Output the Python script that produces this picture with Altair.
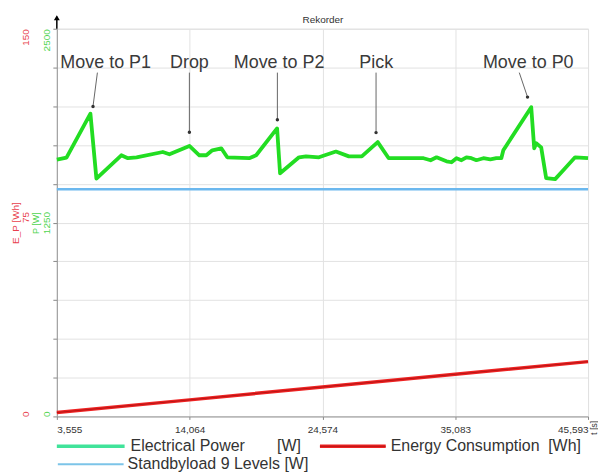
import altair as alt
import pandas as pd

# ---------------- data ----------------
t_power = [3555, 4320, 6213, 6686, 8658, 9178, 9865, 11939, 12467, 14045,
           14833, 15386, 15859, 16569, 17042, 18777, 19329, 20985, 21222, 22721,
           23273, 24298, 25639, 26664, 27689, 28951, 29819, 30607, 31948, 32579,
           33131, 33604, 33999, 34393, 34787, 35182, 35576, 35970, 36365, 36759,
           37311, 37863, 38336, 38731, 38889, 41097, 41334, 41492, 41886, 42281,
           42990, 43779, 44568, 45593]
p_power = [1656, 1669, 1952, 1534, 1684, 1665, 1671, 1705, 1690, 1744,
           1684, 1684, 1716, 1729, 1671, 1665, 1684, 1857, 1568, 1671,
           1677, 1671, 1708, 1677, 1677, 1769, 1665, 1665, 1665, 1665,
           1652, 1671, 1658, 1645, 1639, 1665, 1652, 1671, 1665, 1652,
           1665, 1658, 1665, 1665, 1716, 1994, 1729, 1761, 1735, 1536,
           1530, 1600, 1671, 1665]

t_energy = [3555, 14064, 24574, 35083, 45593]
e_energy = [1.5, 6.4, 11.4, 16.3, 21.2]

t_standby = [3555, 45593]
p_standby = [1465, 1465]

ann_labels = ["Move to P1", "Drop", "Move to P2", "Pick", "Move to P0"]
ann_t_text = [7420, 14045, 21143, 28833, 40861]
ann_p_text = [2249, 2249, 2249, 2249, 2249]
ann_t_top = [6765, 14045, 21009, 28817, 40151]
ann_p_top = [2217, 2217, 2217, 2217, 2217]
ann_t_tip = [6418, 14045, 21009, 28817, 40805]
ann_p_tip = [1999, 1832, 1913, 1830, 2059]

x_ticks = [3555, 14064, 24574, 35083, 45593]
p_ticks = [0, 250, 500, 750, 1000, 1250, 1500, 1750, 2000, 2250, 2500]
e_ticks = [0, 75, 150]

chart_title = "Rekorder"
legend_labels = ["Electrical Power", "[W]", "Energy Consumption", "[Wh]",
                 "Standbyload 9 Levels [W]"]

# ---------------- styling ----------------
FONT = "Liberation Sans, Arial, sans-serif"
GREEN = "#22dd22"
GREEN_LBL = "#4fd44f"
RED = "#ee2222"
RED_DARK = "#a81212"
RED_LBL = "#e8404c"
BLUE = "#6cb8ee"
TXT = "#333333"

power_df = pd.DataFrame({"t": t_power, "P": p_power})
standby_df = pd.DataFrame({"t": t_standby, "P": p_standby})
energy_df = pd.DataFrame({"t": t_energy, "E": e_energy})
ann_df = pd.DataFrame({
    "label": ann_labels,
    "t_text": ann_t_text, "p_text": ann_p_text,
    "t_top": ann_t_top, "p_top": ann_p_top,
    "t_tip": ann_t_tip, "p_tip": ann_p_tip,
})
one = pd.DataFrame({"k": [0]})

x_scale = alt.Scale(domain=[3555, 45593], nice=False, zero=False)
p_scale = alt.Scale(domain=[0, 2500], nice=False)
e_scale = alt.Scale(domain=[0, 150], nice=False)

x_axis = alt.Axis(
    values=x_ticks, format=",d", labelFlush=True, labelFontSize=10,
    labelColor=TXT, labelFont=FONT, tickSize=3, tickColor="#888888",
    labelPadding=5, domainColor="#999999", gridColor="#e2e2e2",
    title="t [s]", titleAngle=270, titleX=543, titleY=11, titleAlign="center",
    titleBaseline="bottom", titleFontSize=9, titleFontWeight="normal",
    titleColor=TXT, titleFont=FONT, labelOverlap=False,
)

p_axis = alt.Axis(
    values=p_ticks, format="d",
    labelExpr="datum.value % 1250 == 0 ? datum.label : ''",
    labelAngle=270,
    labelAlign={"condition": [{"test": "datum.value == 2500", "value": "right"},
                              {"test": "datum.value == 1250", "value": "center"}],
                "value": "left"},
    labelBaseline="bottom", labelColor=GREEN_LBL, labelFontSize=10,
    labelFont=FONT, labelPadding=1, labelOverlap=False,
    tickSize=4, tickColor="#888888", domainColor="#999999",
    grid=True, gridColor="#e2e2e2",
    title="P [W]", titleColor=GREEN_LBL, titleFontSize=9,
    titleFontWeight="normal", titlePadding=1, titleAngle=270, titleFont=FONT,
    orient="left",
)

e_axis = alt.Axis(
    values=e_ticks, format="d", labelAngle=270,
    labelAlign={"condition": {"test": "datum.value == 150", "value": "right"},
                "value": "left"},
    labelBaseline="bottom", labelColor=RED_LBL, labelFontSize=10,
    labelFont=FONT, labelPadding=5, labelOverlap=False, ticks=False,
    domain=False, grid=False, offset=21,
    title="E_P [Wh]", titleColor=RED_LBL, titleFontSize=10,
    titleFontWeight="normal", titlePadding=0, titleAngle=270, titleFont=FONT,
    orient="left",
)

X = lambda f: alt.X(f, type="quantitative", scale=x_scale, axis=x_axis)
YP = lambda f: alt.Y(f, type="quantitative", scale=p_scale, axis=p_axis)

green = alt.Chart(power_df).mark_line(color=GREEN, strokeWidth=3.8,
                                      strokeJoin="round").encode(
    x=X("t"), y=YP("P"))

standby = alt.Chart(standby_df).mark_line(color=BLUE, strokeWidth=2.5).encode(
    x=X("t"), y=YP("P"))

arrows = alt.Chart(ann_df).mark_rule(color="#666666", strokeWidth=1).encode(
    x=X("t_top"), y=YP("p_top"), x2="t_tip:Q", y2="p_tip:Q")

dots = alt.Chart(ann_df).mark_circle(color="#333333", size=12, opacity=1).encode(
    x=X("t_tip"), y=YP("p_tip"))

ann_text = alt.Chart(ann_df).mark_text(
    fontSize=18, font=FONT, color="#3a3a3a", align="center",
    baseline="alphabetic").encode(
    x=X("t_text"), y=YP("p_text"), text="label:N")

# axis arrow at the top of the vertical axis
arrow_line = alt.Chart(one).mark_rule(color="black", strokeWidth=1.5).encode(
    x=alt.value(0), y=alt.value(-12), y2=alt.value(0))
arrow_head = alt.Chart(one).mark_point(shape="triangle-up", filled=True,
                                       color="black", size=35, opacity=1).encode(
    x=alt.value(0), y=alt.value(-11))

# chart title as text above the plot
title_mark = alt.Chart(one).mark_text(
    text=chart_title, fontSize=10, font=FONT, color=TXT, align="center",
    baseline="middle").encode(x=alt.value(267), y=alt.value(-9))

# manual legend (below the plot)
def leg_line(x0, x1, y, color, w):
    return alt.Chart(one).mark_rule(color=color, strokeWidth=w).encode(
        x=alt.value(x0), x2=alt.value(x1), y=alt.value(y))

def leg_text(x, y, txt):
    return alt.Chart(one).mark_text(
        text=txt, fontSize=16, font=FONT, color=TXT, align="left",
        baseline="middle").encode(x=alt.value(x), y=alt.value(y))

ROW1, ROW2 = 419, 437
legend = [
    leg_line(0, 68, ROW1, "#40e39a", 3.5),
    leg_text(74, ROW1, legend_labels[0]),
    leg_text(221, ROW1, legend_labels[1]),
    leg_line(264, 330, ROW1, RED, 3.5),
    leg_line(264, 330, ROW1, RED_DARK, 0.8),
    leg_text(335, ROW1, legend_labels[2]),
    leg_text(493, ROW1, legend_labels[3]),
    leg_line(1, 67, ROW2, "#7cc4e8", 2),
    leg_text(71, ROW2, legend_labels[4]),
]

p_group = alt.layer(green, standby, arrows, dots, ann_text,
                    arrow_line, arrow_head, title_mark, *legend)

red = alt.Chart(energy_df).mark_line(color=RED, strokeWidth=3.5).encode(
    x=X("t"), y=alt.Y("E:Q", scale=e_scale, axis=e_axis))
red_core = alt.Chart(energy_df).mark_line(color=RED_DARK, strokeWidth=0.8).encode(
    x=X("t"), y=alt.Y("E:Q", scale=e_scale, axis=e_axis))
e_group = alt.layer(red, red_core)

chart = alt.layer(p_group, e_group).resolve_scale(y="independent").properties(
    width=533, height=389,
    autosize=alt.AutoSizeParams(type="none"),
    padding={"left": 49, "top": 20, "right": 10, "bottom": 60},
).configure_view(stroke=None).configure(background="white")

chart.save("out.html", embed_options={"renderer": "svg", "actions": False})
